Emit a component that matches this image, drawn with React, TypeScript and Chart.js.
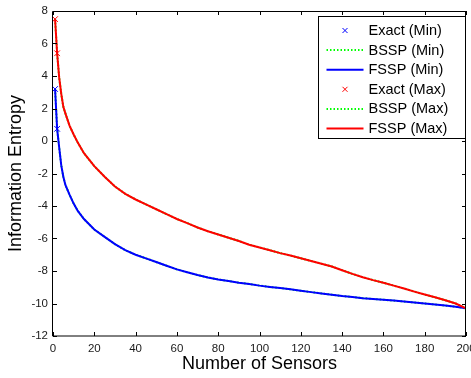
import React, { useEffect, useRef } from 'react';
import { Chart, registerables } from 'chart.js';

Chart.register(...registerables);

// ---- data ----
const sensorCounts = [1, 2, 3, 4, 5, 6, 8, 10, 12, 15, 20, 25, 30, 35, 40, 45, 50, 55, 60, 65, 70, 75, 80, 85, 90, 95, 100, 105, 110, 115, 120, 125, 130, 135, 140, 145, 150, 155, 160, 165, 170, 175, 180, 185, 190, 195, 200];

const fsspMin = [3.2, 0.75, -0.4, -1.5, -2.2, -2.7, -3.3, -3.85, -4.3, -4.8, -5.45, -5.9, -6.35, -6.72, -7.0, -7.22, -7.45, -7.68, -7.9, -8.08, -8.25, -8.4, -8.52, -8.62, -8.72, -8.8, -8.9, -8.98, -9.05, -9.13, -9.22, -9.3, -9.38, -9.46, -9.54, -9.6, -9.67, -9.72, -9.77, -9.82, -9.88, -9.94, -10.0, -10.06, -10.13, -10.2, -10.3];

const fsspMax = [7.5, 5.4, 3.9, 2.9, 2.1, 1.7, 0.95, 0.4, -0.1, -0.75, -1.55, -2.2, -2.8, -3.25, -3.6, -3.9, -4.2, -4.5, -4.8, -5.05, -5.32, -5.55, -5.75, -5.95, -6.15, -6.38, -6.55, -6.72, -6.9, -7.05, -7.22, -7.38, -7.55, -7.72, -7.95, -8.18, -8.38, -8.56, -8.72, -8.9, -9.08, -9.27, -9.45, -9.62, -9.8, -10.0, -10.3];

// BSSP curves coincide with FSSP in the reference
const bsspMin = fsspMin.slice();
const bsspMax = fsspMax.slice();

const exactX = [1, 2];
const exactMin = [3.2, 0.75];
const exactMax = [7.5, 5.4];

const xTicks = [0, 20, 40, 60, 80, 100, 120, 140, 160, 180, 200];
const yTicks = [-12, -10, -8, -6, -4, -2, 0, 2, 4, 6, 8];

const legendItems = [
  { label: 'Exact (Min)', color: '#0000ff', kind: 'marker' },
  { label: 'BSSP (Min)', color: '#00ff00', kind: 'dotted' },
  { label: 'FSSP (Min)', color: '#0000ff', kind: 'line' },
  { label: 'Exact (Max)', color: '#ff0000', kind: 'marker' },
  { label: 'BSSP (Max)', color: '#00ff00', kind: 'dotted' },
  { label: 'FSSP (Max)', color: '#ff0000', kind: 'line' },
];

const FONT = '"Liberation Sans", Arial, Helvetica, sans-serif';

const pts = (xs: number[], ys: number[]) => xs.map((x, i) => ({ x, y: ys[i] }));

const boxAndLegend = {
  id: 'boxAndLegend',
  afterDraw(chart: any) {
    const ctx = chart.ctx;
    const { left, right, top, bottom } = chart.chartArea;
    const xs = chart.scales.x;
    const ys = chart.scales.y;
    ctx.save();
    ctx.strokeStyle = '#000';
    ctx.lineWidth = 1;
    // box
    ctx.beginPath();
    ctx.rect(Math.round(left) - 0.5, Math.round(top) + 0.5, Math.round(right - left), Math.round(bottom - top) - 0.5);
    ctx.stroke();
    // inward ticks
    const tl = 4;
    ctx.beginPath();
    xTicks.forEach((v) => {
      const p = Math.round(xs.getPixelForValue(v)) + 0.5;
      ctx.moveTo(p, bottom);
      ctx.lineTo(p, bottom - tl);
      ctx.moveTo(p, top);
      ctx.lineTo(p, top + tl);
    });
    yTicks.forEach((v) => {
      const p = Math.round(ys.getPixelForValue(v)) + 0.5;
      ctx.moveTo(left, p);
      ctx.lineTo(left + tl, p);
      ctx.moveTo(right, p);
      ctx.lineTo(right - tl, p);
    });
    ctx.stroke();

    // legend box
    const lw = 147;
    const lh = 122;
    const lx = Math.round(right) - lw - 0.5;
    const ly = Math.round(top) + 5.5;
    ctx.fillStyle = '#fff';
    ctx.fillRect(lx, ly, lw, lh);
    ctx.strokeStyle = '#000';
    ctx.lineWidth = 1;
    ctx.strokeRect(lx, ly, lw, lh);
    ctx.font = '14.5px ' + FONT;
    ctx.textBaseline = 'middle';
    ctx.textAlign = 'left';
    legendItems.forEach((it, i) => {
      const cy = ly + 14 + i * 19.6;
      const sx0 = lx + 8;
      const sx1 = lx + 45;
      ctx.strokeStyle = it.color;
      if (it.kind === 'marker') {
        const cx = (sx0 + sx1) / 2;
        const r = 2.5;
        ctx.lineWidth = 1;
        ctx.beginPath();
        ctx.moveTo(cx - r, cy - r);
        ctx.lineTo(cx + r, cy + r);
        ctx.moveTo(cx - r, cy + r);
        ctx.lineTo(cx + r, cy - r);
        ctx.stroke();
      } else {
        ctx.lineWidth = 2;
        ctx.setLineDash(it.kind === 'dotted' ? [1.5, 2] : []);
        ctx.beginPath();
        ctx.moveTo(sx0, cy);
        ctx.lineTo(sx1, cy);
        ctx.stroke();
        ctx.setLineDash([]);
      }
      ctx.fillStyle = '#000';
      ctx.fillText(it.label, lx + 50, cy + 0.5);
    });
    ctx.restore();
  },
};

export default function App() {
  const canvasRef = useRef<HTMLCanvasElement | null>(null);

  useEffect(() => {
    const canvas = canvasRef.current;
    if (!canvas) return;
    const lineDs = (label: string, data: number[], color: string, dotted: boolean) => ({
      label,
      data: pts(sensorCounts, data),
      borderColor: color,
      backgroundColor: color,
      borderWidth: 2,
      borderDash: dotted ? [1.5, 2] : [],
      pointRadius: 0,
      tension: 0,
      fill: false,
    });
    const exactDs = (label: string, data: number[], color: string) => ({
      label,
      data: pts(exactX, data),
      borderColor: color,
      backgroundColor: color,
      showLine: false,
      pointStyle: 'crossRot',
      pointRadius: 4,
      pointBorderWidth: 1,
      clip: false,
    });

    const chart = new Chart(canvas, {
      type: 'line',
      data: {
        datasets: [
          exactDs('Exact (Max)', exactMax, '#ff0000'),
          exactDs('Exact (Min)', exactMin, '#0000ff'),
          lineDs('FSSP (Max)', fsspMax, '#ff0000', false),
          lineDs('FSSP (Min)', fsspMin, '#0000ff', false),
          lineDs('BSSP (Max)', bsspMax, '#00ff00', true),
          lineDs('BSSP (Min)', bsspMin, '#00ff00', true),
        ] as any,
      },
      options: {
        animation: false,
        responsive: false,
        maintainAspectRatio: false,
        layout: { padding: { top: 11, right: 5, left: 0, bottom: 0 } },
        plugins: {
          legend: { display: false },
          tooltip: { enabled: false },
        },
        scales: {
          x: {
            type: 'linear',
            min: 0,
            max: 200,
            afterBuildTicks: (s: any) => {
              s.ticks = xTicks.map((v) => ({ value: v }));
            },
            afterFit: (s: any) => {
              s.height = 42;
              s.paddingLeft = 0;
              s.paddingRight = 0;
            },
            grid: { display: false, drawTicks: false },
            border: { display: false },
            ticks: {
              autoSkip: false,
              maxRotation: 0,
              padding: 6,
              color: '#1a1a1a',
              font: { family: FONT, size: 11.5 },
            },
            title: {
              display: true,
              text: 'Number of Sensors',
              color: '#000',
              font: { family: FONT, size: 18 },
              padding: { top: 0, bottom: 3 },
            },
          },
          y: {
            type: 'linear',
            min: -12,
            max: 8,
            afterBuildTicks: (s: any) => {
              s.ticks = yTicks.map((v) => ({ value: v }));
            },
            afterFit: (s: any) => {
              s.width = 53;
              s.paddingTop = 0;
              s.paddingBottom = 0;
            },
            grid: { display: false, drawTicks: false },
            border: { display: false },
            ticks: {
              autoSkip: false,
              padding: 5,
              color: '#1a1a1a',
              font: { family: FONT, size: 11.5 },
            },
            title: {
              display: true,
              text: 'Information Entropy',
              color: '#000',
              font: { family: FONT, size: 18 },
              padding: { top: 5, bottom: 0 },
            },
          },
        },
      } as any,
      plugins: [boxAndLegend],
    });
    return () => chart.destroy();
  }, []);

  return (
    <div style={{ position: 'fixed', left: 0, top: 0, width: 471, height: 378, background: '#fff' }}>
      <canvas ref={canvasRef} width={471} height={378} style={{ display: 'block' }} />
    </div>
  );
}
